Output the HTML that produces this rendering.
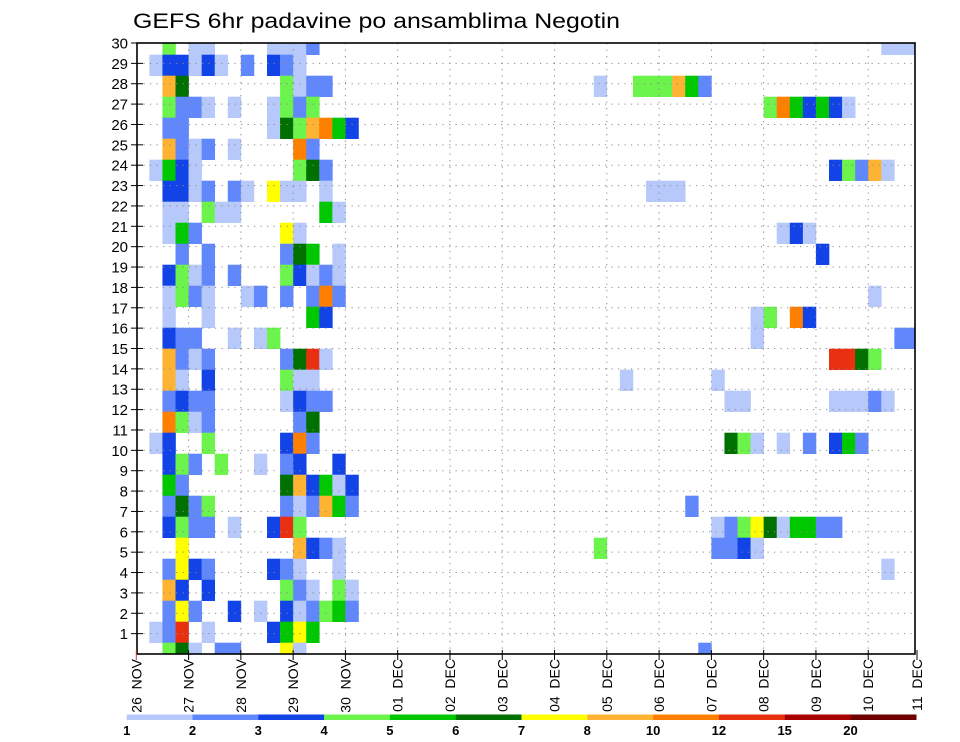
<!DOCTYPE html>
<html><head><meta charset="utf-8"><style>
html,body{margin:0;padding:0;background:#fff;}
svg{display:block;font-family:"Liberation Sans",sans-serif;}
</style></head><body>
<svg id="chart" width="960" height="742" viewBox="0 0 960 742" xmlns="http://www.w3.org/2000/svg">
<defs><clipPath id="plotclip"><rect x="137" y="43" width="778" height="611"/></clipPath></defs>
<text x="133" y="28" font-size="21" textLength="487" lengthAdjust="spacingAndGlyphs" fill="#000">GEFS 6hr padavine po ansamblima Negotin</text>
<g id="cells" clip-path="url(#plotclip)"></g>
<g id="grid"></g>
<rect x="137" y="43" width="778" height="611" fill="none" stroke="#000" stroke-width="1.6"/>
<g id="yaxis"></g>
<g id="xaxis"></g>
<g id="legend"></g>
</svg>
<script>
// ---- data ----
const dayLabels = ["26 NOV","27 NOV","28 NOV","29 NOV","30 NOV","01 DEC","02 DEC","03 DEC","04 DEC","05 DEC","06 DEC","07 DEC","08 DEC","09 DEC","10 DEC","11 DEC"];
const memberLabels = [30,29,28,27,26,25,24,23,22,21,20,19,18,17,16,15,14,13,12,11,10,9,8,7,6,5,4,3,2,1];
const yTickLabels = [1,2,3,4,5,6,7,8,9,10,11,12,13,14,15,16,17,18,19,20,21,22,23,24,25,26,27,28,29,30];
const levelThresholds = [1,2,3,4,5,6,7,8,10,12,15,20];
const levelColors = ["#b7c9fb","#6087fc","#1243e6","#6cf34c","#00c800","#007000","#ffff00","#ffb332","#ff8000","#e83010","#a80000","#6e0000"];
// per member row: "timeStep:precip(mm)"  (timeStep = 6-hour step from 26 NOV 00z)
const memberPrecip = [
"2:4.5 4:1.5 5:1.5 10:1.5 11:1.5 12:1.5 13:2.5 57:1.5 58:1.5 59:1.5",
"1:1.5 2:3.5 3:3.5 4:1.5 5:3.5 6:1.5 8:2.5 10:3.5 11:2.5 12:1.5",
"2:9 3:6.5 11:4.5 12:1.5 13:2.5 14:2.5 35:1.5 38:4.5 39:4.5 40:4.5 41:9 42:5.5 43:2.5",
"2:4.5 3:2.5 4:2.5 5:1.5 7:1.5 10:1.5 11:4.5 12:2.5 13:4.5 48:4.5 49:11 50:5.5 51:3.5 52:5.5 53:3.5 54:1.5",
"2:2.5 3:2.5 10:1.5 11:6.5 12:4.5 13:9 14:11 15:5.5 16:3.5",
"2:9 3:2.5 4:1.5 5:2.5 7:1.5 12:11 13:2.5",
"1:1.5 2:5.5 3:3.5 4:1.5 12:4.5 13:6.5 14:2.5 53:3.5 54:4.5 55:2.5 56:9 57:1.5",
"2:3.5 3:3.5 4:1.5 5:2.5 7:2.5 8:1.5 10:7.5 11:1.5 12:1.5 14:1.5 39:1.5 40:1.5 41:1.5",
"2:1.5 3:1.5 5:4.5 6:1.5 7:1.5 14:5.5 15:1.5",
"2:1.5 3:5.5 4:2.5 11:7.5 12:1.5 49:1.5 50:3.5 51:1.5",
"3:2.5 5:2.5 11:2.5 12:6.5 13:5.5 15:1.5 52:3.5",
"2:3.5 3:4.5 4:1.5 5:2.5 7:2.5 11:4.5 12:3.5 13:1.5 14:2.5 15:1.5",
"2:1.5 3:4.5 4:2.5 5:1.5 8:1.5 9:2.5 11:2.5 13:2.5 14:11 15:2.5 56:1.5",
"2:1.5 5:1.5 13:5.5 14:3.5 47:1.5 48:4.5 50:11 51:3.5",
"2:3.5 3:2.5 4:2.5 7:1.5 9:1.5 10:4.5 47:1.5 58:2.5 59:2.5",
"2:9 3:2.5 4:1.5 5:2.5 11:2.5 12:6.5 13:13 14:1.5 53:13 54:13 55:6.5 56:4.5",
"2:9 3:1.5 5:3.5 11:4.5 12:1.5 13:1.5 37:1.5 44:1.5",
"2:2.5 3:3.5 4:2.5 5:2.5 11:1.5 12:3.5 13:2.5 14:2.5 45:1.5 46:1.5 53:1.5 54:1.5 55:1.5 56:2.5 57:1.5",
"2:11 3:4.5 4:1.5 5:2.5 12:2.5 13:6.5",
"1:1.5 2:3.5 5:4.5 11:3.5 12:11 13:2.5 45:6.5 46:4.5 47:1.5 49:1.5 51:2.5 53:3.5 54:5.5 55:2.5",
"2:3.5 3:4.5 4:2.5 6:4.5 9:1.5 11:2.5 12:3.5 15:3.5",
"2:5.5 3:2.5 11:6.5 12:9 13:3.5 14:5.5 15:1.5 16:3.5",
"2:2.5 3:6.5 4:2.5 5:4.5 11:2.5 12:1.5 13:2.5 14:9 15:5.5 16:2.5 42:2.5",
"2:3.5 3:4.5 4:2.5 5:2.5 7:1.5 10:3.5 11:13 12:4.5 44:1.5 45:2.5 46:4.5 47:7.5 48:6.5 49:1.5 50:5.5 51:5.5 52:2.5 53:2.5",
"3:7.5 12:9 13:3.5 14:2.5 15:1.5 35:4.5 44:2.5 45:2.5 46:3.5 47:1.5",
"2:2.5 3:7.5 4:3.5 5:2.5 10:3.5 11:2.5 12:1.5 15:1.5 57:1.5",
"2:9 3:3.5 5:3.5 11:4.5 12:2.5 13:1.5 15:4.5 16:1.5",
"2:2.5 3:7.5 4:2.5 7:3.5 9:1.5 11:3.5 12:1.5 13:2.5 14:4.5 15:5.5 16:2.5",
"1:1.5 2:2.5 3:13 5:1.5 10:3.5 11:5.5 12:7.5 13:5.5",
"2:4.5 3:6.5 4:1.5 6:2.5 7:2.5 11:7.5 12:1.5 43:2.5"
];
// ---- scales ----
const X0 = 136.3, STEP = 13.07, PLOT_L = 137, PLOT_R = 915, PLOT_T = 43, PLOT_B = 654;
function xStep(s){ return X0 + STEP*s; }
function rowTop(i){ return 33.7 + 21*i; }
const ROW_H = 21;
function yLabel(v){ return PLOT_T + (PLOT_B - PLOT_T) * (30 - v) / 30; }
function colorFor(v){ let k=-1; for(let i=0;i<levelThresholds.length;i++){ if(v>=levelThresholds[i]) k=i; } return k<0?null:levelColors[k]; }
const NS="http://www.w3.org/2000/svg";
function mk(tag, attrs, parent){ const e=document.createElementNS(NS,tag); for(const k in attrs) e.setAttribute(k,attrs[k]); parent.appendChild(e); return e; }

// ---- cells ----
const gCells=document.getElementById('cells');
memberPrecip.forEach((row,i)=>{
  row.split(' ').forEach(tok=>{
    const [s,v]=tok.split(':').map(Number);
    const c=colorFor(v); if(!c) return;
    const r=mk('rect',{x:xStep(s).toFixed(2),y:rowTop(i).toFixed(2),width:STEP+0.3,height:ROW_H+0.3,fill:c},gCells);
    
    
  });
});
// ---- grid ----
const gGrid=document.getElementById('grid');
yTickLabels.forEach(v=>{ if(v>=30) return;
  const l=mk('line',{x1:PLOT_L,x2:PLOT_R,y1:yLabel(v),y2:yLabel(v),stroke:'#8a8a8a','stroke-width':1,'stroke-dasharray':'1.2,5.3'},gGrid);
  
  
});
dayLabels.forEach((d,k)=>{ const x=xStep(4*k); if(k===0||x>PLOT_R) return;
  const l=mk('line',{x1:x,x2:x,y1:PLOT_T,y2:PLOT_B,stroke:'#8a8a8a','stroke-width':1,'stroke-dasharray':'1.2,5.3'},gGrid);
  
  
});
// ---- y axis ----
const gY=document.getElementById('yaxis');
yTickLabels.forEach(v=>{ const y=yLabel(v);
  const t=mk('line',{x1:131,x2:143,y1:y,y2:y,stroke:'#000','stroke-width':1},gY);
  
  
  const tx=mk('text',{x:128,y:y+5.5,'text-anchor':'end','font-size':15,fill:'#000'},gY);
  tx.textContent=v;
  
  
});
// ---- x axis ----
const gX=document.getElementById('xaxis');
dayLabels.forEach((d,k)=>{ let x=xStep(4*k); x=Math.min(x,917);
  const t=mk('line',{x1:x,x2:x,y1:PLOT_B-4,y2:PLOT_B+6,stroke:k===0?'#c04040':'#000','stroke-width':1},gX);
  
  
  const tx=mk('text',{x:0,y:0,'text-anchor':'end','font-size':14,fill:'#000',transform:'translate('+(x+5)+',659) rotate(-90)'},gX);
  tx.textContent=d.replace(' ','\u00a0\u00a0');
  
  
});
// ---- legend ----
const gL=document.getElementById('legend');
const LX=126.7, LW=65.8;
levelColors.forEach((c,i)=>{
  const r=mk('rect',{x:LX+LW*i,y:714.5,width:LW+0.2,height:5.5,fill:c},gL);
  
  
});
levelThresholds.forEach((v,i)=>{
  const t=mk('text',{x:LX+LW*i,y:735,'text-anchor':'middle','font-size':13,'font-weight':'bold',fill:'#000'},gL);
  t.textContent=v;
  
  
});
</script>
</body></html>
